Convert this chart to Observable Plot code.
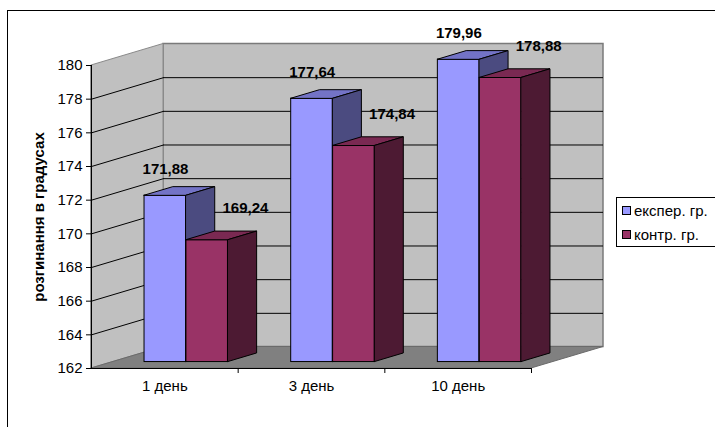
<!DOCTYPE html>
<html>
<head>
<meta charset="utf-8">
<script src="https://cdn.jsdelivr.net/npm/d3@7"></script>
<script src="https://cdn.jsdelivr.net/npm/@observablehq/plot@0.6"></script>
<style>
  html, body { margin: 0; padding: 0; background: #fff; overflow: hidden; }
  body { font-family: "Liberation Sans", Arial, sans-serif; }
  #wrap { position: relative; width: 715px; height: 427px; overflow: hidden; }
  #frame { position: absolute; left: 7px; top: 10px; width: 800px; height: 500px; border: 1.5px solid #000; box-sizing: border-box; }
  #chart { position: absolute; left: 0; top: 0; }
  #legend { position: absolute; left: 616px; top: 197px; width: 130px; height: 50px; border: 1px solid #000; background: #fff; font-size: 15px; color: #000; box-sizing: border-box; }
  .item { position: absolute; left: 5px; display: flex; align-items: center; white-space: nowrap; }
  .sw { width: 7px; height: 7px; border: 1px solid #000; margin-right: 3px; }
</style>
</head>
<body>
<div id="wrap">
  <div id="frame"></div>
  <div id="chart"></div>
  <div id="legend"></div>
</div>
<script>
// ---- data ----
const categories = ["1 день", "3 день", "10 день"];
const seriesNames = ["експер. гр.", "контр. гр."];
const experValues = [171.88, 177.64, 179.96];
const controlValues = [169.24, 174.84, 178.88];
const yTicks = [162, 164, 166, 168, 170, 172, 174, 176, 178, 180];
const yTitle = "розгинання в градусах";

// ---- styles ----
const frontColors = ["#9999ff", "#993366"];
const topColors = ["#7373c6", "#7a2952"];
const sideColors = ["#4b4b80", "#4d1a33"];
const FS = 15;

// ---- 3D projection (depth offset expressed in data units) ----
const KX = 72 / 146.667;   // x shift of full depth, in category units
const KY = 21.5 / 16.833;  // y shift of full depth, in value units
const T0 = 0.3, DT = 0.4;
const BW = 1 / 3.5, GAP = 0.75 / 3.5;
const Y0 = yTicks[0], Y1 = yTicks[yTicks.length - 1];
const P = (c, t) => c + t * KX;
const Q = (v, t) => v + t * KY;
const fmt = v => v.toFixed(2).replace(".", ",");

const seriesValues = [experValues, controlValues];
const bars = [];
seriesNames.forEach((s, si) => {
  categories.forEach((c, ci) => {
    const c0 = ci + GAP + si * BW;
    bars.push({ id: s + ci, si, ci, c0, c1: c0 + BW, v: seriesValues[si][ci] });
  });
});

const tops = bars.flatMap(b => [T0, T0 + DT].map(t => ({ id: b.id, si: b.si, y: Q(b.v, t), x1: P(b.c0, t), x2: P(b.c1, t) })));
const sides = bars.flatMap(b => [T0, T0 + DT].map(t => ({ id: b.id, si: b.si, x: P(b.c1, t), y1: Q(Y0, t), y2: Q(b.v, t) })));

const n = categories.length;
const leftWall = [0, 1].map(t => ({ x: P(0, t), y1: Q(Y0, t), y2: Q(Y1, t) }));
const floor = [0, 1].map(t => ({ y: Q(Y0, t), x1: P(0, t), x2: P(n, t) }));
const inner = yTicks.slice(1, -1);

const marks = [
  // back wall
  Plot.rect([0], { x1: P(0, 1), x2: P(n, 1), y1: Q(Y0, 1), y2: Q(Y1, 1), fill: "#c0c0c0", stroke: "#7a7a7a", strokeWidth: 1.5 }),
  // left wall
  Plot.areaY(leftWall, { x: "x", y1: "y1", y2: "y2", fill: "#c0c0c0", stroke: "#8a8a8a" }),
  // floor
  Plot.areaX(floor, { y: "y", x1: "x1", x2: "x2", fill: "#808080", stroke: "#6a6a6a" }),
  // gridlines
  Plot.ruleY(inner, { y: v => Q(v, 1), x1: P(0, 1), x2: P(n, 1), stroke: "#000", strokeWidth: 1 }),
  Plot.link(inner, { x1: P(0, 0), y1: v => v, x2: P(0, 1), y2: v => Q(v, 1), stroke: "#000", strokeWidth: 1 }),
];

seriesNames.forEach((s, si) => {
  const bs = bars.filter(b => b.si === si);
  marks.push(
    Plot.rect(bs, { x1: b => P(b.c0, T0), x2: b => P(b.c1, T0), y1: Q(Y0, T0), y2: b => Q(b.v, T0), fill: frontColors[si], stroke: "#000", strokeWidth: 1 }),
    Plot.areaX(tops.filter(d => d.si === si), { y: "y", x1: "x1", x2: "x2", z: "id", fill: topColors[si], stroke: "#000", strokeWidth: 1 }),
    Plot.areaY(sides.filter(d => d.si === si), { x: "x", y1: "y1", y2: "y2", z: "id", fill: sideColors[si], stroke: "#000", strokeWidth: 1 })
  );
});

// value labels
seriesNames.forEach((s, si) => {
  const bs = bars.filter(b => b.si === si);
  marks.push(Plot.text(bs, {
    x: b => P((b.c0 + b.c1) / 2, T0), y: b => Q(b.v, T0), text: b => fmt(b.v),
    dx: si === 0 ? 0 : 38, dy: si === 0 ? -27 : -32,
    fontWeight: "bold", fontSize: FS, fill: "#000"
  }));
});

marks.push(
  // front axis lines
  Plot.ruleX([0], { x: 0, y1: Y0, y2: Y1, stroke: "#000", strokeWidth: 1 }),
  Plot.ruleY([Y0], { y: Y0, x1: 0, x2: n, stroke: "#000", strokeWidth: 1 }),
  Plot.axisY({ ticks: yTicks, tickSize: 5, tickPadding: 4, label: null, fontSize: FS, tickFormat: d => String(d) }),
  Plot.axisX({ ticks: d3.range(1, n + 1), tickSize: 5, tickFormat: () => "", label: null }),
  Plot.text(categories, { x: (d, i) => i + 0.5, y: Y0, dy: 18, text: d => d, fontSize: FS, fill: "#000" }),
  Plot.text([yTitle], { frameAnchor: "left", dx: -52, rotate: -90, textAnchor: "middle", text: d => d, fontWeight: "bold", fontSize: FS, fill: "#000" })
);

const chart = Plot.plot({
  width: 715,
  height: 427,
  marginLeft: 91,
  marginRight: 184,
  marginTop: 65,
  marginBottom: 59,
  x: { type: "linear", domain: [0, n] },
  y: { type: "linear", domain: [Y0, Y1] },
  style: { background: "transparent", fontFamily: "Liberation Sans, Arial, sans-serif", fontSize: FS + "px", color: "#000" },
  marks
});
document.getElementById("chart").appendChild(chart);

// legend
const legend = document.getElementById("legend");
seriesNames.forEach((s, si) => {
  const it = document.createElement("div");
  it.className = "item";
  it.style.top = (si === 0 ? 4 : 28) + "px";
  const sw = document.createElement("div");
  sw.className = "sw";
  sw.style.background = frontColors[si];
  const tx = document.createElement("span");
  tx.textContent = s;
  it.appendChild(sw); it.appendChild(tx);
  legend.appendChild(it);
});
</script>
</body>
</html>
